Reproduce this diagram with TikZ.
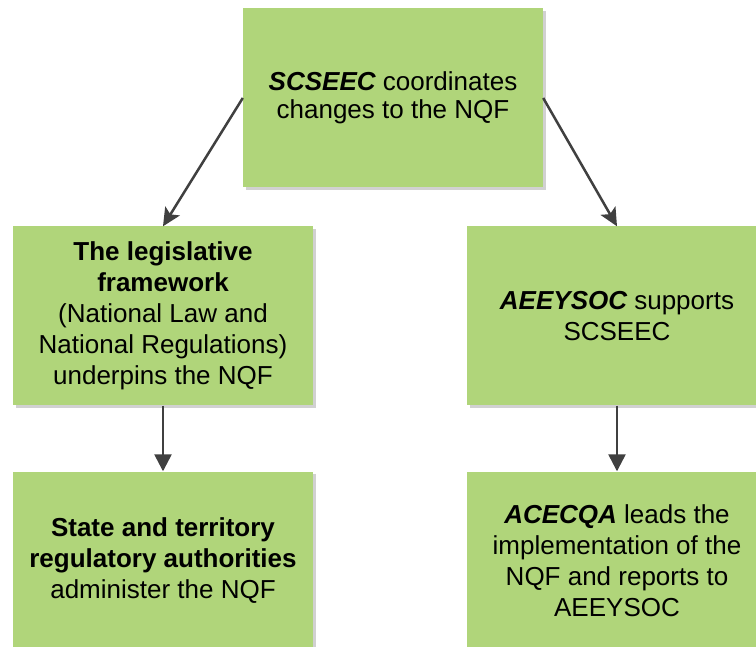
\documentclass[tikz,border=0pt]{standalone}
\usepackage{fontspec}
\setmainfont{Liberation Sans}
\usetikzlibrary{arrows.meta,shadows}
\definecolor{boxgreen}{RGB}{176,213,122}
\definecolor{arrgray}{RGB}{64,64,64}
\begin{document}
\begin{tikzpicture}[x=1pt,y=-1pt,
  greenbox/.style={rectangle, fill=boxgreen, draw=none, minimum width=300pt, minimum height=179pt,
    inner sep=0pt, align=center, font=\fontsize{26}{31}\selectfont,
    drop shadow={shadow xshift=2.5pt, shadow yshift=-2.5pt, fill=black!18, opacity=1}},
  arr/.style={draw=arrgray, line width=2.5pt, -{Triangle[length=17pt,width=17pt]}},
  darr/.style={draw=arrgray, line width=2.5pt, -{Stealth[length=18pt,width=17pt,inset=4pt]}}]
\useasboundingbox (0,0) rectangle (756,647);
\clip (0,0) rectangle (756,647);
\fill[white] (0,0) rectangle (756,647);
\node[greenbox, font=\fontsize{26}{28}\selectfont] (top) at (393,98) {{\bfseries\itshape SCSEEC} coordinates\\changes to the NQF};
\node[greenbox] (ml) at (163,316) {{\bfseries The legislative}\\{\bfseries framework}\\(National Law and\\National Regulations)\\underpins the NQF};
\node[greenbox] (mr) at (617,316) {{\bfseries\itshape AEEYSOC} supports\\SCSEEC};
\node[greenbox] (bl) at (163,561) {{\bfseries State and territory}\\{\bfseries regulatory authorities}\\administer the NQF};
\node[greenbox] (br) at (617,561) {{\bfseries\itshape ACECQA} leads the\\implementation of the\\NQF and reports to\\AEEYSOC};
\draw[darr] (top.west) -- (ml.north);
\draw[darr] (top.east) -- (mr.north);
\draw[arr] (ml.south) -- (bl.north);
\draw[arr] (mr.south) -- (br.north);
\end{tikzpicture}
\end{document}
